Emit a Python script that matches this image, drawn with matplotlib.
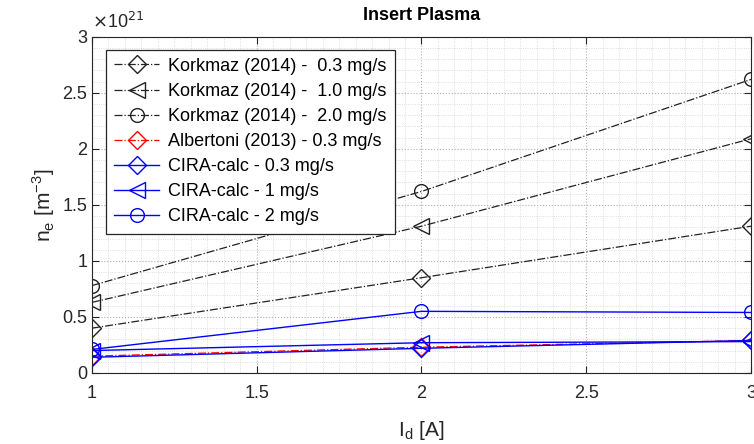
import matplotlib
matplotlib.use("Agg")
import matplotlib.pyplot as plt
from matplotlib.ticker import MultipleLocator, FuncFormatter

plt.rcParams['font.family'] = ['Liberation Sans', 'DejaVu Sans']

# discharge current [A]
current = [1, 2, 3]

# electron density [m^-3]
korkmaz_03 = [0.40e21, 0.85e21, 1.31e21]
korkmaz_10 = [0.63e21, 1.31e21, 2.09e21]
korkmaz_20 = [0.78e21, 1.62e21, 2.62e21]
albertoni_03 = [0.15e21, 0.23e21, 0.29e21]
cira_03 = [0.14e21, 0.22e21, 0.29e21]
cira_1 = [0.20e21, 0.27e21, 0.28e21]
cira_2 = [0.21e21, 0.55e21, 0.54e21]

scale = 1e21

fig = plt.figure(figsize=(7.54, 4.44), dpi=100)
ax = fig.add_axes([0.122, 0.16, 0.874, 0.757])

grey = '#222222'
ms = 11
ax.plot(current, korkmaz_03, '-.', color=grey, marker='D', ms=ms * 0.8, mfc='none', lw=0.9,
        label='Korkmaz (2014) -  0.3 mg/s')
ax.plot(current, korkmaz_10, '-.', color=grey, marker='<', ms=ms, mfc='none', lw=0.9,
        label='Korkmaz (2014) -  1.0 mg/s')
ax.plot(current, korkmaz_20, '-.', color=grey, marker='o', ms=ms * 0.9, mfc='none', lw=0.9,
        label='Korkmaz (2014) -  2.0 mg/s')
ax.plot(current, albertoni_03, '-.', color='red', marker='D', ms=ms * 0.8, mfc='none', lw=0.9,
        label='Albertoni (2013) - 0.3 mg/s')
ax.plot(current, cira_03, '-', color='blue', marker='D', ms=ms * 0.8, mfc='none', lw=1.0,
        label='CIRA-calc - 0.3 mg/s')
ax.plot(current, cira_1, '-', color='blue', marker='<', ms=ms, mfc='none', lw=1.0,
        label='CIRA-calc - 1 mg/s')
ax.plot(current, cira_2, '-', color='blue', marker='o', ms=ms * 0.9, mfc='none', lw=1.0,
        label='CIRA-calc - 2 mg/s')

ax.set_xlim(1, 3)
ax.set_ylim(0, 3 * scale)
ax.xaxis.set_major_locator(MultipleLocator(0.5))
ax.xaxis.set_minor_locator(MultipleLocator(0.05))
ax.yaxis.set_major_locator(MultipleLocator(0.5 * scale))
ax.yaxis.set_minor_locator(MultipleLocator(0.1 * scale))
ax.xaxis.set_major_formatter(FuncFormatter(lambda v, p: '%g' % v))
ax.yaxis.set_major_formatter(FuncFormatter(lambda v, p: '%g' % round(v / scale, 2)))
ax.grid(which='major', linestyle=':', color='#b0b0b0', lw=0.8)
ax.grid(which='minor', linestyle=':', color='#d4d4d4', lw=0.6)
ax.tick_params(which='minor', length=0)
ax.tick_params(which='major', direction='in', length=5, labelsize=13, colors='#262626',
               top=True, right=True)
ax.tick_params(axis='x', pad=9)
for sp in ax.spines.values():
    sp.set_color('#262626')

# exponent label like MATLAB
ax.text(0, 1.015, r'$\times$10$^{21}$', transform=ax.transAxes, fontsize=13,
        color='#262626', va='bottom', ha='left')

ax.set_title('Insert Plasma', fontsize=13, fontweight='bold', pad=12)
ax.set_xlabel(r'I$_\mathregular{d}$ [A]', fontsize=15, color='#262626', labelpad=12)
ax.set_ylabel(r'n$_\mathregular{e}$ [m$^\mathregular{-3}$]', fontsize=15, color='#262626')

leg = ax.legend(loc='upper left', fontsize=13, fancybox=False, edgecolor='#262626',
                framealpha=1, bbox_to_anchor=(0.021, 0.962), borderaxespad=0,
                handlelength=2.5, labelspacing=0.45, borderpad=0.45, handletextpad=0.5)
leg.get_frame().set_linewidth(0.9)

fig.savefig('out.png', dpi=100)
